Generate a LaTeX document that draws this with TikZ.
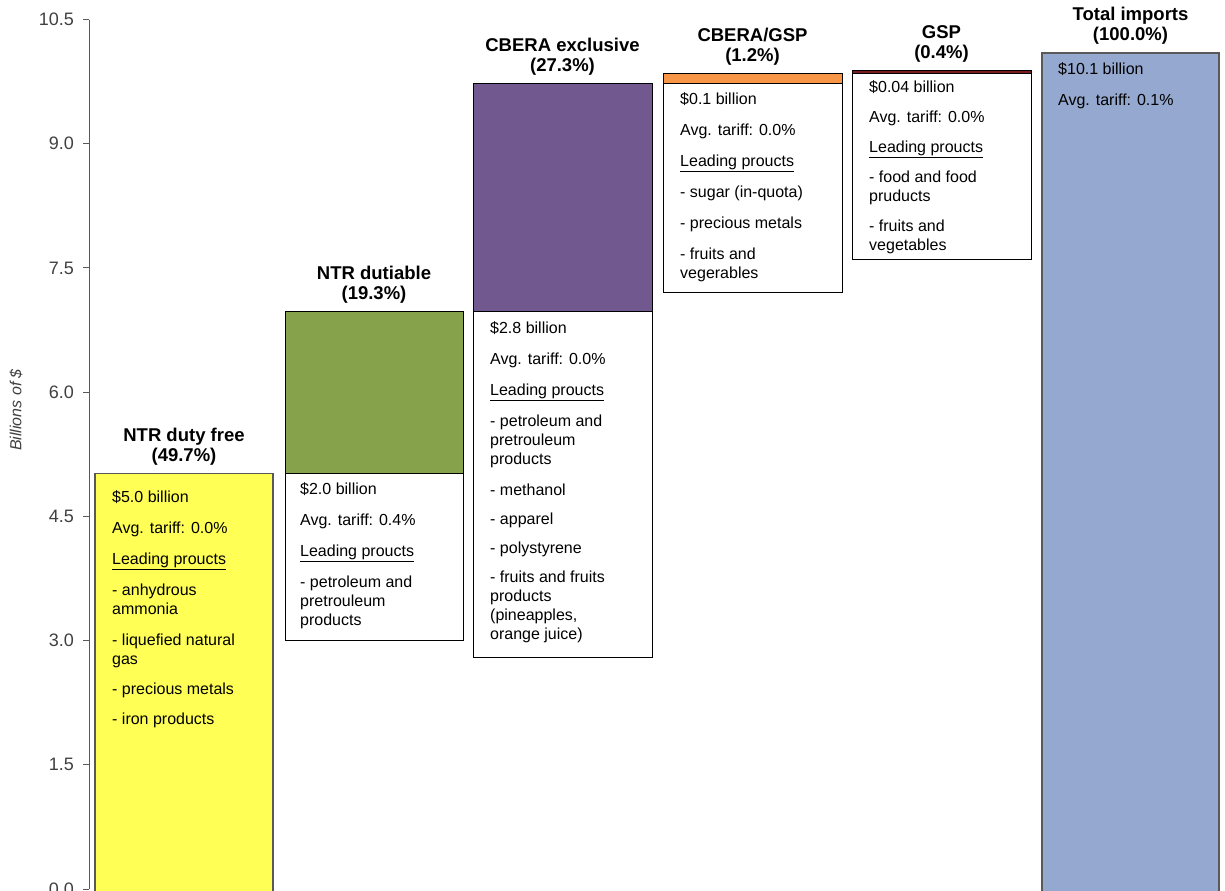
\documentclass[tikz,border=0pt]{standalone}
\usepackage{fontspec}
\setmainfont{Liberation Sans}
\definecolor{dutyfree}{RGB}{255,255,85}
\definecolor{dutiable}{RGB}{134,163,75}
\definecolor{cbera}{RGB}{113,88,143}
\definecolor{cberagsp}{RGB}{247,150,70}
\definecolor{gsponly}{RGB}{120,28,28}
\definecolor{totalimp}{RGB}{149,168,207}
\definecolor{axisgray}{RGB}{89,89,89}
\definecolor{ticktext}{RGB}{64,64,64}
\begin{document}
\begin{tikzpicture}[x=1pt,y=82.8pt,
	bar/.style={draw=black,line width=0.8pt},
	infobox/.style={draw=black,fill=white,line width=0.8pt},
	title/.style={anchor=south,inner sep=0pt,yshift=8pt,align=center,font=\fontsize{18.5}{20}\selectfont\bfseries},
	info/.style={anchor=north west,inner sep=0pt,yshift=-9.5pt,align=left,font=\fontsize{16}{19}\selectfont}]
	\useasboundingbox (0,-0.0121) rectangle (1225,10.7367);
	% axis
	\draw[axisgray,line width=1pt] (89,0) -- (89,10.5);
	\foreach \v [count=\i] in {0.0,1.5,3.0,4.5,6.0,7.5,9.0,10.5}{
		\draw[axisgray,line width=1pt] (83,\v) -- (89,\v);
		\node[anchor=east,inner sep=0pt,text=ticktext,font=\fontsize{18}{20}\selectfont] (tick\i) at (74,\v) {\v};
	}
	\node[rotate=90,text=ticktext,font=\fontsize{16}{19}\selectfont\itshape] (ylabel) at (16,5.785) {Billions of \$};
	% NTR duty free
	\fill[dutyfree,draw=axisgray,line width=1.6pt] (95,-0.1) rectangle (273,5.02);
	\node[title] (freetitle) at (184,5.02) {NTR duty free\\(49.7\%)};
	\node[info,yshift=-8pt] (freeinfo) at (112,5.02) {\$5.0 billion\\[12pt]
		Avg. tariff: 0.0\%\\[12pt]
		\underline{Leading proucts}\\[12pt]
		- anhydrous\\ammonia\\[12pt]
		- liquefied natural\\gas\\[11pt]
		- precious metals\\[11pt]
		- iron products};
	% NTR dutiable
	\draw[infobox] (285,3.0) rectangle (463,5.02);
	\draw[bar,fill=dutiable] (285,5.02) rectangle (463,6.97);
	\node[title] (dutytitle) at (374,6.97) {NTR dutiable\\(19.3\%)};
	\node[info] (dutyinfo) at (300,5.02) {\$2.0 billion\\[12pt]
		Avg. tariff: 0.4\%\\[12pt]
		\underline{Leading proucts}\\[12pt]
		- petroleum and\\pretrouleum\\products};
	% CBERA exclusive
	\draw[infobox] (473,2.8) rectangle (652,6.97);
	\draw[bar,fill=cbera] (473,6.97) rectangle (652,9.73);
	\node[title] (cberatitle) at (562.5,9.73) {CBERA exclusive\\(27.3\%)};
	\node[info] (cberainfo) at (490,6.97) {\$2.8 billion\\[12pt]
		Avg. tariff: 0.0\%\\[12pt]
		\underline{Leading proucts}\\[12pt]
		- petroleum and\\pretrouleum\\products\\[12pt]
		- methanol\\[10pt]
		- apparel\\[10pt]
		- polystyrene\\[10pt]
		- fruits and fruits\\products\\(pineapples,\\orange juice)};
	% CBERA/GSP
	\draw[infobox] (663,7.2) rectangle (842,9.73);
	\draw[bar,fill=cberagsp] (663,9.73) rectangle (842,9.85);
	\node[title] (bothtitle) at (752.5,9.85) {CBERA/GSP\\(1.2\%)};
	\node[info] (bothinfo) at (680,9.73) {\$0.1 billion\\[12pt]
		Avg. tariff: 0.0\%\\[12pt]
		\underline{Leading proucts}\\[12pt]
		- sugar (in-quota)\\[12pt]
		- precious metals\\[12pt]
		- fruits and\\vegerables};
	% GSP
	\draw[infobox] (852,7.6) rectangle (1031,9.85);
	\draw[bar,fill=gsponly] (852,9.85) rectangle (1031,9.89);
	\node[title] (gsptitle) at (941.5,9.89) {GSP\\(0.4\%)};
	\node[info,yshift=2pt] (gspinfo) at (869,9.85) {\$0.04 billion\\[11pt]
		Avg. tariff: 0.0\%\\[11pt]
		\underline{Leading proucts}\\[11pt]
		- food and food\\pruducts\\[11pt]
		- fruits and\\vegetables};
	% Total imports
	\fill[totalimp,draw=axisgray,line width=1.6pt] (1042,-0.1) rectangle (1219,10.1);
	\node[title] (totaltitle) at (1130.5,10.1) {Total imports\\(100.0\%)};
	\node[info] (totalinfo) at (1058,10.1) {\$10.1 billion\\[12pt]
		Avg. tariff: 0.1\%};
\end{tikzpicture}
\end{document}
